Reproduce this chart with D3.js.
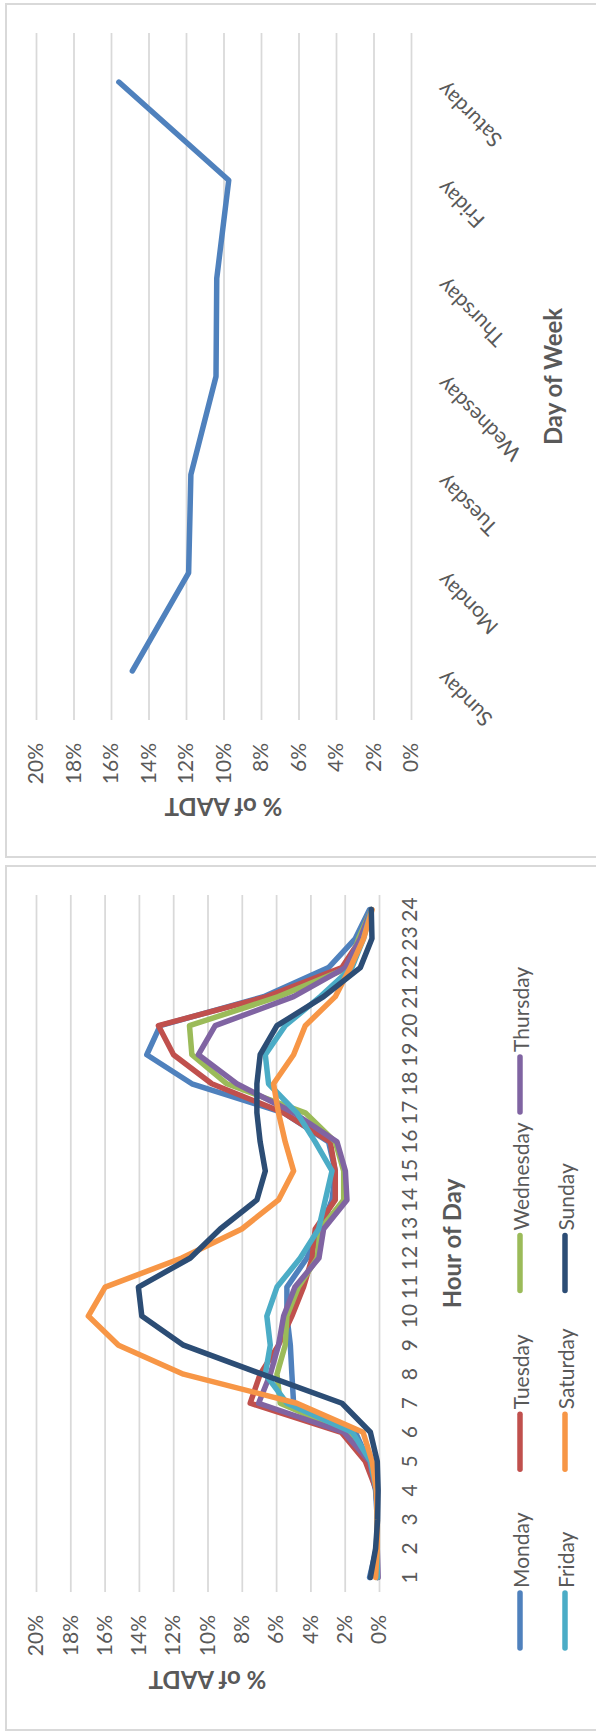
<!DOCTYPE html>
<html>
<head>
<meta charset="utf-8">
<script src="https://cdn.jsdelivr.net/npm/d3@7"></script>
<style>
  html, body { margin: 0; padding: 0; background: #fff; }
  svg { display: block; }
</style>
</head>
<body>
<svg id="chart" width="596" height="1732"></svg>
<script>
// ---- data -------------------------------------------------------------
const days = ["Sunday", "Monday", "Tuesday", "Wednesday", "Thursday", "Friday", "Saturday"];
// share of AADT by day of week (%)
const dayShare = [14.86, 11.86, 11.74, 10.40, 10.36, 9.72, 15.58];

const hours = ["1", "2", "3", "4", "5", "6", "7", "8", "9", "10", "11", "12",
               "13", "14", "15", "16", "17", "18", "19", "20", "21", "22", "23", "24"];
const pctTicks = [0, 0.02, 0.04, 0.06, 0.08, 0.10, 0.12, 0.14, 0.16, 0.18, 0.20];

// share of AADT by hour of day (%), one array per day
const monday    = [0.55, 0.15, 0.10, 0.20, 0.60, 1.38, 4.98, 5.08, 5.17, 5.37, 5.37, 4.20, 3.40, 2.74, 2.55, 2.94, 5.56, 10.91, 13.54, 12.76, 6.73, 2.94, 1.38, 0.55];
const tuesday   = [0.10, 0.10, 0.10, 0.15, 0.80, 2.20, 7.51, 6.93, 5.86, 5.08, 4.40, 3.90, 3.72, 2.55, 2.55, 2.84, 5.56, 9.75, 11.98, 12.86, 6.54, 2.16, 1.05, 0.45];
const wednesday = [0.10, 0.10, 0.10, 0.15, 0.50, 1.87, 5.76, 5.95, 5.47, 5.37, 4.70, 3.60, 3.42, 2.06, 2.06, 2.55, 4.30, 8.87, 10.91, 11.05, 5.86, 1.77, 1.19, 0.45];
const thursday  = [0.05, 0.10, 0.10, 0.15, 0.55, 2.06, 7.02, 6.34, 5.86, 5.56, 4.90, 3.50, 3.23, 1.87, 1.96, 2.45, 4.98, 8.29, 10.53, 9.55, 4.98, 1.96, 1.09, 0.45];
const friday    = [0.10, 0.10, 0.10, 0.15, 0.50, 1.55, 5.37, 6.63, 6.34, 6.54, 5.95, 4.59, 3.52, 3.13, 2.74, 3.72, 4.79, 6.44, 6.63, 5.47, 3.42, 1.58, 0.90, 0.45];
const saturday  = [0.20, 0.10, 0.10, 0.15, 0.40, 0.93, 4.79, 11.40, 15.19, 16.95, 15.97, 11.50, 8.00, 5.86, 4.98, 5.47, 5.86, 6.15, 4.98, 4.30, 2.55, 1.67, 0.90, 0.40];
const sunday    = [0.50, 0.20, 0.08, 0.05, 0.10, 0.50, 2.16, 6.83, 11.40, 13.83, 14.03, 11.00, 9.26, 7.12, 6.63, 6.93, 7.12, 7.12, 6.93, 5.95, 3.23, 1.09, 0.41, 0.45];

const seriesNames  = ["Monday", "Tuesday", "Wednesday", "Thursday", "Friday", "Saturday", "Sunday"];
const seriesValues = [monday, tuesday, wednesday, thursday, friday, saturday, sunday];
const seriesColors = ["#4F81BD", "#C0504D", "#9BBB59", "#8064A2", "#4BACC6", "#F79646", "#2C4D75"];

// ---- styling ----------------------------------------------------------
const FONT = "Lato, 'Open Sans', sans-serif";
const TEXT = "#595959";
const GRID = "#d9d9d9";
const LABEL_SIZE = 21;
const TITLE_SIZE = 24;

const svg = d3.select("#chart");
svg.append("rect").attr("width", 596).attr("height", 1732).attr("fill", "#fff");

// Each panel is laid out in its own frame, turned a quarter turn
// counter-clockwise on the page.
function panel(ox, oy, w, h) {
  const g = svg.append("g").attr("transform", `translate(${ox},${oy}) rotate(-90)`);
  g.append("rect")
    .attr("x", 0).attr("y", 0).attr("width", w).attr("height", h)
    .attr("fill", "none").attr("stroke", GRID).attr("stroke-width", 2);
  return g;
}

// axis text styling has to come after the axis call, which sets its own defaults
function styleAxis(a) {
  a.attr("font-family", FONT).attr("font-size", LABEL_SIZE).attr("color", TEXT);
  a.select(".domain").remove();
}

function valueAxis(g, x, y) {
  const [u0, u1] = x.range();
  g.append("g")
    .attr("transform", `translate(${u0},0)`)
    .call(d3.axisLeft(y).tickValues(pctTicks).tickFormat(d3.format(".0%"))
      .tickSize(-(u1 - u0)).tickPadding(23))
    .call(styleAxis)
    .call(a => a.selectAll(".tick line").attr("stroke", GRID).attr("stroke-width", 1.75));
}

function yTitle(g, y) {
  const [a, b] = y.range();
  g.append("text")
    .attr("transform", `translate(50,${(a + b) / 2}) rotate(-90)`)
    .attr("text-anchor", "middle")
    .attr("dominant-baseline", "central")
    .attr("font-family", FONT).attr("font-weight", 700)
    .attr("font-size", TITLE_SIZE).attr("fill", TEXT)
    .text("% of AADT");
}

// ---- Day of Week panel --------------------------------------------------
{
  const g = panel(6, 857, 853, 720);
  const x = d3.scaleBand().domain(days).range([137, 824]);
  const y = d3.scaleLinear().domain([0, 0.20]).range([405, 30]);

  valueAxis(g, x, y);
  yTitle(g, y);

  g.append("g")
    .attr("transform", `translate(0,${y(0)})`)
    .call(d3.axisBottom(x).tickSize(0))
    .call(styleAxis)
    .call(a => a.selectAll(".tick text")
      .attr("y", null).attr("dy", null)
      .attr("text-anchor", "end")
      .attr("transform", "translate(1,35) rotate(-45)"));

  g.append("text")
    .attr("x", (x.range()[0] + x.range()[1]) / 2).attr("y", 546)
    .attr("text-anchor", "middle").attr("dominant-baseline", "central")
    .attr("font-family", FONT).attr("font-weight", 700)
    .attr("font-size", TITLE_SIZE).attr("fill", TEXT)
    .text("Day of Week");

  const line = d3.line()
    .x((d, i) => x(days[i]) + x.bandwidth() / 2)
    .y(d => y(d / 100));
  g.append("path")
    .attr("d", line(dayShare))
    .attr("fill", "none").attr("stroke", "#4F81BD")
    .attr("stroke-width", 5.5)
    .attr("stroke-linejoin", "round").attr("stroke-linecap", "round");
}

// ---- Hour of Day panel --------------------------------------------------
{
  const g = panel(6, 1730, 864, 720);
  const x = d3.scaleBand().domain(hours).range([138, 835]);
  const y = d3.scaleLinear().domain([0, 0.20]).range([373, 30]);

  valueAxis(g, x, y);
  yTitle(g, y);

  g.append("g")
    .attr("transform", `translate(0,${y(0)})`)
    .call(d3.axisBottom(x).tickSize(0).tickPadding(23))
    .call(styleAxis);

  g.append("text")
    .attr("x", (x.range()[0] + x.range()[1]) / 2).attr("y", 445)
    .attr("text-anchor", "middle").attr("dominant-baseline", "central")
    .attr("font-family", FONT).attr("font-weight", 700)
    .attr("font-size", TITLE_SIZE).attr("fill", TEXT)
    .text("Hour of Day");

  const line = d3.line()
    .x((d, i) => x(hours[i]) + x.bandwidth() / 2)
    .y(d => y(d / 100));

  g.append("g").selectAll("path")
    .data(seriesValues)
    .join("path")
    .attr("d", d => line(d))
    .attr("fill", "none")
    .attr("stroke", (d, i) => seriesColors[i])
    .attr("stroke-width", 5.5)
    .attr("stroke-linejoin", "round").attr("stroke-linecap", "round");

  // legend: two rows under the category labels
  const legend = g.append("g")
    .attr("font-family", FONT).attr("font-size", LABEL_SIZE).attr("fill", TEXT);
  const item = legend.selectAll("g")
    .data(seriesNames)
    .join("g")
    .attr("transform", (d, i) => `translate(${82 + (i % 4) * 178.7},${514 + Math.floor(i / 4) * 45})`);
  item.append("line")
    .attr("x1", 0).attr("x2", 55).attr("y1", 0).attr("y2", 0)
    .attr("stroke", (d, i) => seriesColors[i])
    .attr("stroke-width", 5.5).attr("stroke-linecap", "round");
  item.append("text")
    .attr("x", 60).attr("y", 0)
    .attr("dominant-baseline", "central")
    .text(d => d);
}
</script>
</body>
</html>
